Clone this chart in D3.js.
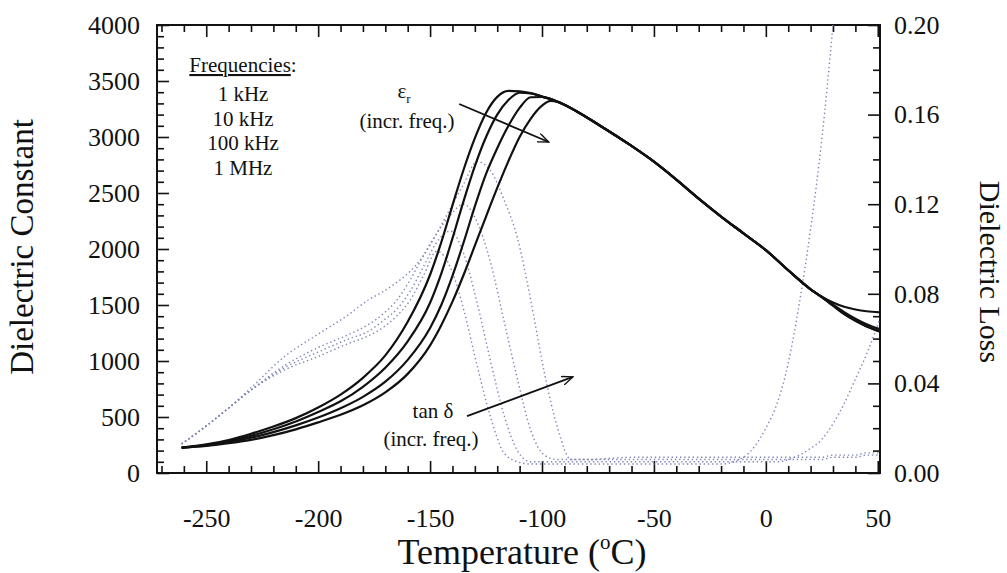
<!DOCTYPE html>
<html>
<head>
<meta charset="utf-8">
<script src="https://cdn.jsdelivr.net/npm/d3@7"></script>
<style>
  body { margin: 0; background: #fff; }
  svg text { font-family: "Liberation Serif", "Times New Roman", serif; fill: #111; }
</style>
</head>
<body>
<div class="chart"></div>
<script>
// Dielectric constant vs temperature, one curve per measuring frequency
var epsTemps = [-261, -250, -240, -230, -220, -210, -200, -190, -180, -170, -160, -150, -145, -140, -135,
                -130, -125, -120, -115, -110, -105, -100, -96, -93, -85, -74, -60, -50, -40, -30,
                -20, -10, 0, 10, 20, 25, 30, 35, 40, 45, 51];
var eps1kHz   = [226, 255, 295, 350, 415, 490, 585, 700, 850, 1050, 1350, 1770, 2060, 2390, 2710,
                 2990, 3215, 3358, 3412, 3408, 3392, 3362, 3340, 3314, 3235, 3100, 2920, 2780, 2620, 2450,
                 2290, 2140, 1990, 1810, 1640, 1575, 1522, 1484, 1460, 1444, 1434];
var eps10kHz  = [226, 250, 285, 332, 390, 460, 545, 640, 770, 940, 1175, 1520, 1780, 2095, 2430,
                 2740, 3000, 3200, 3330, 3395, 3390, 3360, 3338, 3314, 3235, 3100, 2920, 2780, 2620, 2450,
                 2290, 2140, 1990, 1810, 1640, 1572, 1502, 1436, 1378, 1328, 1284];
var eps100kHz = [226, 246, 276, 315, 365, 425, 495, 578, 680, 815, 1010, 1295, 1500, 1760, 2060,
                 2380, 2670, 2900, 3100, 3260, 3355, 3357, 3336, 3314, 3235, 3100, 2920, 2780, 2620, 2450,
                 2290, 2140, 1990, 1810, 1640, 1570, 1496, 1421, 1361, 1311, 1265];
var eps1MHz   = [226, 243, 266, 296, 338, 390, 452, 520, 605, 720, 885, 1140, 1320, 1530, 1770,
                 2030, 2290, 2545, 2785, 3000, 3165, 3280, 3322, 3314, 3235, 3100, 2920, 2780, 2620, 2450,
                 2290, 2140, 1990, 1810, 1640, 1570, 1494, 1418, 1358, 1308, 1262];

// Dielectric loss (tan delta), same four frequencies
var lossTemps = [-261, -250, -240, -230, -215, -200, -186, -178, -171, -165, -159, -153, -147, -141, -135,
                 -129, -123, -117, -111, -105, -99, -93, -87, -80, -60, -40, -20, -10, 0, 5,
                 10, 15, 20, 25, 30, 35, 40, 45, 51];
var loss1kHz   = [.013, .021, .029, .037, .046, .052, .058, .061, .065, .070, .077, .088, .099, .092, .073,
                  .048, .025, .009, .005, .004, .004, .004, .004, .004, .004, .004, .004, .007, .020, .031,
                  .049, .076, .109, .149, .200, .260, .330, .400, .500];
var loss10kHz  = [.013, .021, .029, .037, .047, .054, .060, .063, .068, .073, .081, .092, .103, .108, .098,
                  .076, .050, .026, .010, .005, .005, .005, .005, .005, .005, .005, .005, .005, .005, .005,
                  .006, .008, .011, .015, .022, .031, .042, .053, .069];
var loss100kHz = [.013, .021, .029, .037, .048, .056, .062, .066, .071, .077, .086, .097, .107, .115, .120,
                  .112, .094, .068, .042, .019, .008, .006, .006, .006, .006, .006, .006, .006, .006, .006,
                  .006, .006, .006, .006, .007, .007, .007, .008, .008];
var loss1MHz   = [.013, .021, .029, .038, .052, .062, .071, .077, .081, .085, .090, .097, .107, .118, .129,
                  .139, .135, .122, .105, .077, .045, .020, .006, .006, .007, .007, .007, .007, .007, .007,
                  .007, .007, .007, .007, .008, .008, .008, .009, .009];

var freqLabels = ["1 kHz", "10 kHz", "100 kHz", "1 MHz"];
var tempTicks = [-250, -200, -150, -100, -50, 0, 50];
var epsTicks = [0, 500, 1000, 1500, 2000, 2500, 3000, 3500, 4000];
var lossTicks = [0, 0.04, 0.08, 0.12, 0.16, 0.20];

var svgWidth = 1007;
var svgHeight = 573;

// plot frame
var frame = { left: 157, right: 880, top: 25, bottom: 473 };

var svg = d3.select(".chart")
            .append("svg")
            .attr("width", svgWidth)
            .attr("height", svgHeight);

var xScale = d3.scaleLinear().domain([-272, 51]).range([frame.left, frame.right]);
var yEps = d3.scaleLinear().domain([0, 4000]).range([frame.bottom, frame.top]);
var yLoss = d3.scaleLinear().domain([0, 0.2]).range([frame.bottom, frame.top]);

svg.append("defs").append("clipPath")
   .attr("id", "plot-clip")
   .append("rect")
   .attr("x", frame.left)
   .attr("y", frame.top)
   .attr("width", frame.right - frame.left)
   .attr("height", frame.bottom - frame.top);

// minor ticks: every 10 degC, every 100 of eps, every 0.01 of loss
var minorTemp = d3.range(-270, 51, 10).filter(d => d % 50 !== 0);
var minorEps = d3.range(100, 4000, 100).filter(d => d % 500 !== 0);
var minorLoss = d3.range(1, 20).filter(d => d % 4 !== 0).map(d => d / 100);

function styleAxis(g) {
    g.select(".domain").remove();
    g.selectAll("line").attr("stroke", "#111").attr("stroke-width", 1.6);
    g.selectAll("text").attr("font-size", 26).attr("fill", "#111");
    g.attr("font-family", null).attr("font-size", null);
}

// bottom axis
svg.append("g")
   .attr("transform", `translate(0, ${frame.bottom})`)
   .call(d3.axisBottom(xScale).tickValues(tempTicks).tickSize(-12).tickPadding(36)
           .tickFormat(d => String(d)))
   .call(styleAxis);
svg.append("g")
   .attr("transform", `translate(0, ${frame.bottom})`)
   .call(d3.axisBottom(xScale).tickValues(minorTemp).tickSize(-7).tickFormat(""))
   .call(styleAxis);

// top axis (ticks only)
svg.append("g")
   .attr("transform", `translate(0, ${frame.top})`)
   .call(d3.axisTop(xScale).tickValues(tempTicks).tickSize(-12).tickFormat(""))
   .call(styleAxis);
svg.append("g")
   .attr("transform", `translate(0, ${frame.top})`)
   .call(d3.axisTop(xScale).tickValues(minorTemp).tickSize(-7).tickFormat(""))
   .call(styleAxis);

// left axis: dielectric constant
svg.append("g")
   .attr("transform", `translate(${frame.left}, 0)`)
   .call(d3.axisLeft(yEps).tickValues(epsTicks).tickSize(-12).tickPadding(17)
           .tickFormat(d => String(d)))
   .call(styleAxis);
svg.append("g")
   .attr("transform", `translate(${frame.left}, 0)`)
   .call(d3.axisLeft(yEps).tickValues(minorEps).tickSize(-7).tickFormat(""))
   .call(styleAxis);

// right axis: dielectric loss
svg.append("g")
   .attr("transform", `translate(${frame.right}, 0)`)
   .call(d3.axisRight(yLoss).tickValues(lossTicks).tickSize(-12).tickPadding(14)
           .tickFormat(d3.format(".2f")))
   .call(styleAxis);
svg.append("g")
   .attr("transform", `translate(${frame.right}, 0)`)
   .call(d3.axisRight(yLoss).tickValues(minorLoss).tickSize(-7).tickFormat(""))
   .call(styleAxis);

// frame
svg.append("rect")
   .attr("x", frame.left)
   .attr("y", frame.top)
   .attr("width", frame.right - frame.left)
   .attr("height", frame.bottom - frame.top)
   .attr("fill", "none")
   .attr("stroke", "#111")
   .attr("stroke-width", 2);

var plot = svg.append("g").attr("clip-path", "url(#plot-clip)");

// tan delta curves, dotted
var lossLine = d3.line()
                 .x((d, i) => xScale(lossTemps[i]))
                 .y(d => yLoss(d))
                 .curve(d3.curveMonotoneX);

plot.selectAll(".loss")
    .data([loss1kHz, loss10kHz, loss100kHz, loss1MHz])
    .enter()
    .append("path")
    .attr("class", "loss")
    .attr("d", lossLine)
    .attr("fill", "none")
    .attr("stroke", "#7f86b4")
    .attr("stroke-width", 1.4)
    .attr("stroke-dasharray", "1.4 2.8");

// dielectric constant curves, solid
var epsLine = d3.line()
                .x((d, i) => xScale(epsTemps[i]))
                .y(d => yEps(d))
                .curve(d3.curveMonotoneX);

plot.selectAll(".eps")
    .data([eps1kHz, eps10kHz, eps100kHz, eps1MHz])
    .enter()
    .append("path")
    .attr("class", "eps")
    .attr("d", epsLine)
    .attr("fill", "none")
    .attr("stroke", "#111")
    .attr("stroke-width", 2.2);

// frequency list
var legend = svg.append("text")
                .attr("x", 243)
                .attr("y", 72)
                .attr("text-anchor", "middle")
                .attr("font-size", 21);
legend.append("tspan").attr("text-decoration", "underline").text("Frequencies");
legend.append("tspan").text(":");

svg.selectAll(".freq")
   .data(freqLabels)
   .enter()
   .append("text")
   .attr("class", "freq")
   .attr("x", 243)
   .attr("y", (d, i) => 101 + i * 24.6)
   .attr("text-anchor", "middle")
   .attr("font-size", 21)
   .text(d => d);

// arrows
svg.append("defs").append("marker")
   .attr("id", "open-arrow")
   .attr("viewBox", "0 0 12 10")
   .attr("refX", 11)
   .attr("refY", 5)
   .attr("markerWidth", 12)
   .attr("markerHeight", 10)
   .attr("markerUnits", "userSpaceOnUse")
   .attr("orient", "auto")
   .append("path")
   .attr("d", "M0,0.5 L11,5 L0,9.5")
   .attr("fill", "none")
   .attr("stroke", "#111")
   .attr("stroke-width", 1.4);

function arrow(x1, y1, x2, y2) {
    svg.append("line")
       .attr("x1", x1).attr("y1", y1)
       .attr("x2", x2).attr("y2", y2)
       .attr("stroke", "#111")
       .attr("stroke-width", 1.8)
       .attr("marker-end", "url(#open-arrow)");
}

// eps_r annotation
var epsLabel = svg.append("text")
                  .attr("x", 404)
                  .attr("y", 98)
                  .attr("text-anchor", "middle")
                  .attr("font-size", 21);
epsLabel.append("tspan").text("ε");
epsLabel.append("tspan").attr("font-size", 13).attr("dy", 5).text("r");
svg.append("text")
   .attr("x", 407)
   .attr("y", 128)
   .attr("text-anchor", "middle")
   .attr("font-size", 21)
   .text("(incr. freq.)");
arrow(xScale(-137), yEps(3295), xScale(-97), yEps(2955));

// tan delta annotation
svg.append("text")
   .attr("x", 433)
   .attr("y", 418)
   .attr("text-anchor", "middle")
   .attr("font-size", 21)
   .text("tan δ");
svg.append("text")
   .attr("x", 431)
   .attr("y", 446)
   .attr("text-anchor", "middle")
   .attr("font-size", 21)
   .text("(incr. freq.)");
arrow(xScale(-133.5), yLoss(0.0254), xScale(-86.2), yLoss(0.0429));

// axis titles
svg.append("text")
   .attr("transform", "translate(33, 247) rotate(-90)")
   .attr("text-anchor", "middle")
   .attr("font-size", 33)
   .text("Dielectric Constant");

svg.append("text")
   .attr("transform", "translate(980, 272) rotate(90)")
   .attr("text-anchor", "middle")
   .attr("font-size", 30)
   .text("Dielectric Loss");

var xTitle = svg.append("text")
                .attr("x", 522)
                .attr("y", 564)
                .attr("text-anchor", "middle")
                .attr("font-size", 36);
xTitle.append("tspan").text("Temperature (");
xTitle.append("tspan").attr("font-size", 21).attr("dy", -15).text("o");
xTitle.append("tspan").attr("dy", 15).text("C)");
</script>
</body>
</html>
